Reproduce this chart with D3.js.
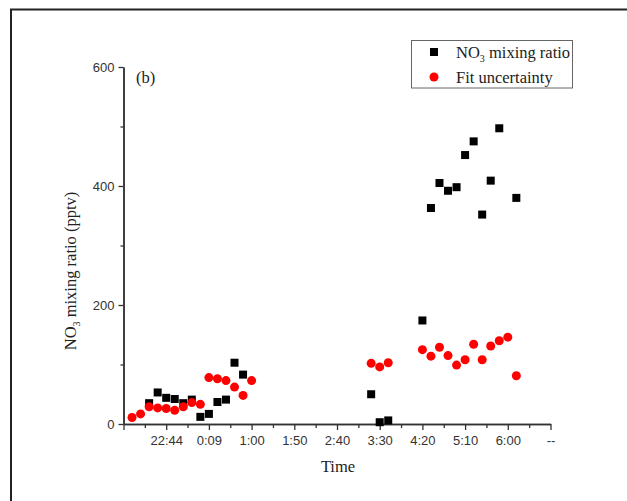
<!DOCTYPE html>
<html><head><meta charset="utf-8">
<script src="https://cdn.jsdelivr.net/npm/d3@7"></script>
<style>body{margin:0;background:#fff}svg{display:block}</style>
</head><body>
<svg id="c" width="627" height="501"></svg>
<script>
// x positions are in units of major tick intervals along the time axis
const tickLabels = ["", "22:44", "0:09", "1:00", "1:50", "2:40", "3:30", "4:20", "5:10", "6:00", "--"];
const no3X = [0.6,0.8,1.0,1.2,1.4,1.6,1.8,2.0,2.2,2.4,2.6,2.8,5.8,6.0,6.2,7.0,7.2,7.4,7.6,7.8,8.0,8.2,8.4,8.6,8.8,9.2];
const no3Y = [35,53,44,42,35,41,12,17,37,41,103,83,50,3,6,174,363,405,392,398,452,475,352,409,497,380];
const fitX = [0.2,0.4,0.6,0.8,1.0,1.2,1.4,1.6,1.8,2.0,2.2,2.4,2.6,2.8,3.0,5.8,6.0,6.2,7.0,7.2,7.4,7.6,7.8,8.0,8.2,8.4,8.6,8.8,9.0,9.2];
const fitY = [11,17,29,27,26,23,29,36,33,78,76,73,62,48,73,102,96,103,125,114,129,115,99,108,134,108,131,140,146,81];
const yTicks = [0,200,400,600];

const svg = d3.select("#c");
const x = d3.scaleLinear().domain([0,10]).range([123.5,550.5]);
const y = d3.scaleLinear().domain([0,600]).range([424,67]);
const axisColor = "#333";

// outer frame
svg.append("path").attr("d","M11,501V9.5H627").attr("fill","none").attr("stroke","#222").attr("stroke-width",2);

// x axis
const gx = svg.append("g").attr("transform","translate(0,424)");
gx.call(d3.axisBottom(x).tickValues(d3.range(0,11)).tickFormat(i=>tickLabels[i]).tickSize(6).tickSizeOuter(0));
gx.append("g").call(d3.axisBottom(x).tickValues(d3.range(0.5,10,1)).tickFormat("").tickSize(4).tickSizeOuter(0));
// y axis
const gy = svg.append("g").attr("transform","translate(123.5,0)");
gy.call(d3.axisLeft(y).tickValues(yTicks).tickSize(5).tickSizeOuter(0));
gy.append("g").call(d3.axisLeft(y).tickValues([100,300,500]).tickFormat("").tickSize(3).tickSizeOuter(0));

svg.selectAll(".domain").attr("stroke",axisColor).attr("stroke-width",1.5);
svg.selectAll(".tick line").attr("stroke",axisColor).attr("stroke-width",1.3);
svg.selectAll(".tick text").attr("font-family","'Liberation Sans', Arial, sans-serif").attr("font-size",13).attr("fill","#333");
gx.selectAll(".tick text").attr("dy",0).attr("y",21);
gy.selectAll(".tick text").attr("x",-9);

// points
svg.append("g").selectAll("rect").data(no3X).join("rect")
  .attr("x",(d)=>x(d)-4).attr("y",(d,i)=>y(no3Y[i])-4).attr("width",8).attr("height",8).attr("fill","#000");
svg.append("g").selectAll("circle").data(fitX).join("circle")
  .attr("cx",d=>x(d)).attr("cy",(d,i)=>y(fitY[i])).attr("r",4.5).attr("fill","#ff0000");

const serif = "'Liberation Serif', 'Times New Roman', serif";
const fs = 16.5;
// axis titles
svg.append("text").attr("x",338).attr("y",472).attr("text-anchor","middle").attr("font-family",serif).attr("font-size",fs).attr("fill","#222").text("Time");
const yt = svg.append("text").attr("transform","translate(76,271) rotate(-90)").attr("text-anchor","middle").attr("font-family",serif).attr("font-size",fs).attr("fill","#222");
yt.append("tspan").text("NO");
yt.append("tspan").attr("font-size",10).attr("dy",4).text("3");
yt.append("tspan").attr("dy",-4).text(" mixing ratio (pptv)");

svg.append("text").attr("x",136).attr("y",83).attr("font-family",serif).attr("font-size",fs).attr("fill","#222").text("(b)");

// legend
const lg = svg.append("g");
lg.append("rect").attr("x",411.5).attr("y",40.5).attr("width",161).attr("height",47.5).attr("fill","#fff").attr("stroke","#666").attr("stroke-width",1);
lg.append("rect").attr("x",430).attr("y",48).attr("width",8).attr("height",8).attr("fill","#000");
lg.append("circle").attr("cx",434).attr("cy",77).attr("r",4.5).attr("fill","#ff0000");
const l1 = lg.append("text").attr("x",456).attr("y",58).attr("font-family",serif).attr("font-size",fs).attr("fill","#222");
l1.append("tspan").text("NO");
l1.append("tspan").attr("font-size",10).attr("dy",4).text("3");
l1.append("tspan").attr("dy",-4).text(" mixing ratio");
lg.append("text").attr("x",456).attr("y",83).attr("font-family",serif).attr("font-size",fs).attr("fill","#222").text("Fit uncertainty");
</script>
</body></html>
